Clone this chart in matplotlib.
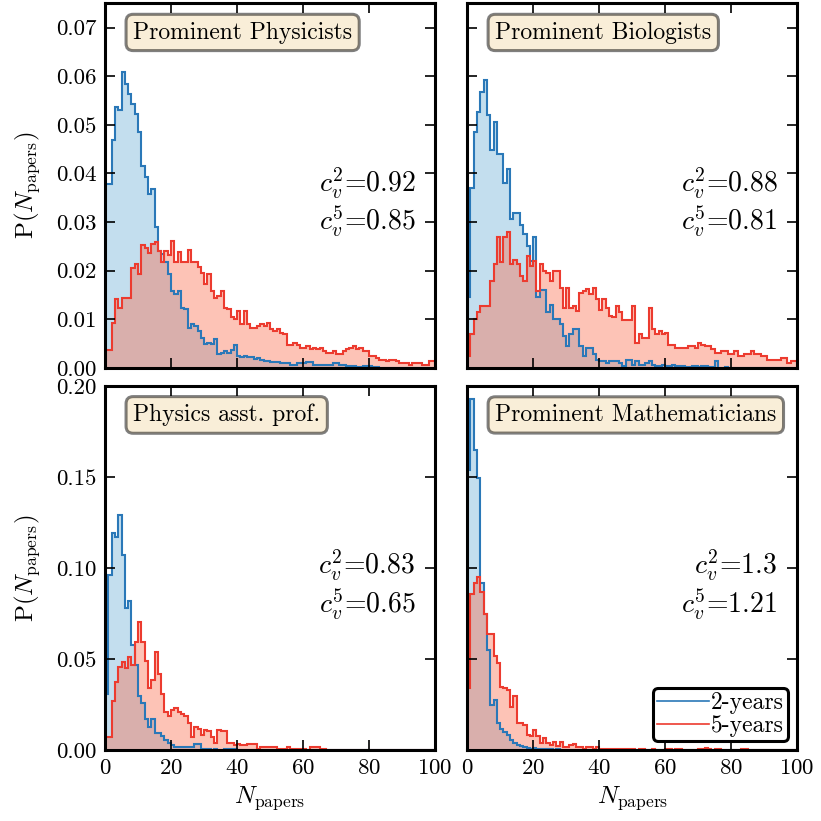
import numpy as np
import matplotlib
matplotlib.use("Agg")
import matplotlib.pyplot as plt
from matplotlib.ticker import FormatStrFormatter

plt.rcParams['font.family'] = 'serif'
plt.rcParams['font.serif'] = ['cmr10']
plt.rcParams['mathtext.fontset'] = 'cm'
plt.rcParams['axes.formatter.use_mathtext'] = True

# histogram values, one bin per paper count 0..99
phys2 = [0.0378, 0.0378, 0.0468, 0.0536, 0.0530, 0.0609, 0.0584, 0.0564, 0.0543, 0.0523,
         0.0485, 0.0416, 0.0392, 0.0358, 0.0368, 0.0289, 0.0241, 0.0234, 0.0217, 0.0193,
         0.0159, 0.0152, 0.0159, 0.0124, 0.0121, 0.0083, 0.0090, 0.0087, 0.0076, 0.0062,
         0.0049, 0.0052, 0.0049, 0.0059, 0.0028, 0.0030, 0.0034, 0.0030, 0.0036, 0.0047,
         0.0025, 0.0023, 0.0024, 0.0023, 0.0022, 0.0019, 0.0020, 0.0016, 0.0014, 0.0014,
         0.0013, 0.0012, 0.0012, 0.0010, 0.0010, 0.0010, 0.0007, 0.0007, 0.0010, 0.0010,
         0.0010, 0.0012, 0.0012, 0.0007, 0.0007, 0.0005, 0.0006, 0.0005, 0.0005, 0.0010,
         0.0010, 0.0005, 0.0005, 0.0004, 0.0004, 0.0003, 0.0002, 0.0002, 0.0003, 0.0003,
         0.0003, 0.0002, 0.0001, 0, 0, 0, 0, 0, 0, 0,
         0, 0, 0, 0, 0, 0, 0, 0, 0, 0]
phys5 = [0.0036, 0.0036, 0.0093, 0.0141, 0.0124, 0.0144, 0.0144, 0.0144, 0.0205, 0.0214,
         0.0193, 0.0253, 0.0247, 0.0236, 0.0255, 0.0258, 0.0240, 0.0217, 0.0240, 0.0233,
         0.0262, 0.0217, 0.0238, 0.0217, 0.0217, 0.0243, 0.0217, 0.0217, 0.0207, 0.0196,
         0.0172, 0.0193, 0.0159, 0.0144, 0.0148, 0.0159, 0.0124, 0.0121, 0.0104, 0.0100,
         0.0117, 0.0090, 0.0117, 0.0090, 0.0083, 0.0083, 0.0086, 0.0090, 0.0086, 0.0093,
         0.0079, 0.0076, 0.0079, 0.0072, 0.0069, 0.0048, 0.0048, 0.0052, 0.0048, 0.0041,
         0.0041, 0.0045, 0.0038, 0.0041, 0.0038, 0.0041, 0.0034, 0.0031, 0.0031, 0.0034,
         0.0028, 0.0028, 0.0034, 0.0038, 0.0041, 0.0045, 0.0038, 0.0041, 0.0034, 0.0034,
         0.0024, 0.0024, 0.0021, 0.0017, 0.0017, 0.0014, 0.0017, 0.0017, 0.0014, 0.0010,
         0.0010, 0.0010, 0.0007, 0.0010, 0.0010, 0.0010, 0.0007, 0.0007, 0.0014, 0.0014]

bio2 = [0.0145, 0.0370, 0.0486, 0.0527, 0.0568, 0.0593, 0.0520, 0.0448, 0.0506, 0.0441,
        0.0441, 0.0380, 0.0410, 0.0307, 0.0318, 0.0318, 0.0293, 0.0276, 0.0251, 0.0220,
        0.0270, 0.0145, 0.0160, 0.0160, 0.0114, 0.0130, 0.0100, 0.0100, 0.0090, 0.0065,
        0.0045, 0.0069, 0.0079, 0.0079, 0.0045, 0.0024, 0.0040, 0.0040, 0.0028, 0.0017,
        0.0014, 0.0014, 0.0010, 0.0014, 0.0014, 0.0014, 0.0010, 0.0004, 0.0017, 0.0017,
        0.0007, 0.0014, 0.0007, 0.0007, 0.0010, 0.0014, 0.0007, 0.0004, 0.0004, 0.0007,
        0.0004, 0.0004, 0.0007, 0.0004, 0.0004, 0.0004, 0.0002, 0.0002, 0.0004, 0.0004,
        0.0002, 0.0004, 0.0004, 0.0002, 0.0002, 0.0014, 0, 0, 0.0002, 0,
        0, 0, 0, 0, 0, 0, 0, 0, 0, 0,
        0, 0, 0, 0, 0, 0, 0, 0, 0, 0]
bio5 = [0.0024, 0.0069, 0.0100, 0.0114, 0.0127, 0.0127, 0.0127, 0.0179, 0.0214, 0.0269,
        0.0217, 0.0269, 0.0279, 0.0214, 0.0221, 0.0214, 0.0190, 0.0179, 0.0230, 0.0210,
        0.0220, 0.0158, 0.0214, 0.0200, 0.0195, 0.0179, 0.0200, 0.0200, 0.0165, 0.0124,
        0.0165, 0.0124, 0.0128, 0.0117, 0.0155, 0.0158, 0.0162, 0.0152, 0.0165, 0.0141,
        0.0120, 0.0141, 0.0124, 0.0107, 0.0104, 0.0127, 0.0114, 0.0098, 0.0098, 0.0098,
        0.0127, 0.0052, 0.0069, 0.0062, 0.0062, 0.0124, 0.0079, 0.0069, 0.0076, 0.0069,
        0.0072, 0.0048, 0.0048, 0.0041, 0.0041, 0.0041, 0.0041, 0.0045, 0.0045, 0.0041,
        0.0052, 0.0048, 0.0045, 0.0045, 0.0038, 0.0031, 0.0031, 0.0034, 0.0034, 0.0028,
        0.0028, 0.0034, 0.0024, 0.0024, 0.0028, 0.0028, 0.0034, 0.0028, 0.0028, 0.0024,
        0.0024, 0.0017, 0.0017, 0.0017, 0.0017, 0.0021, 0.0021, 0.0010, 0.0014, 0.0014]

asst2 = [0.031, 0.096, 0.119, 0.117, 0.129, 0.107, 0.078, 0.082, 0.058, 0.047,
         0.030, 0.026, 0.017, 0.013, 0.017, 0.0097, 0.0097, 0.008, 0.0057, 0.0043,
         0.003, 0.002, 0.0017, 0.0017, 0.0017, 0.0017, 0.0017, 0.0035, 0.0035, 0.0005,
         0.0005, 0.0005, 0, 0.0005, 0, 0, 0.001, 0.001, 0.001, 0.0005] + [0] * 60
asst5 = [0.0075, 0.0075, 0.027, 0.0376, 0.046, 0.0485, 0.045, 0.0515, 0.0467, 0.0594,
         0.0703, 0.0594, 0.049, 0.034, 0.0385, 0.054, 0.042, 0.031, 0.021, 0.019,
         0.022, 0.0235, 0.021, 0.020, 0.019, 0.015, 0.0075, 0.0126, 0.0115, 0.0085,
         0.011, 0.0105, 0.0075, 0.004, 0.011, 0.0105, 0.0105, 0.004, 0.004, 0.003,
         0.0035, 0.003, 0.003, 0.0035, 0.0035, 0.0035, 0.001, 0.002, 0.002, 0.002,
         0.002, 0.002, 0.001, 0.001, 0.001, 0.002, 0.0005, 0.0005, 0.0005, 0.0005,
         0.001, 0, 0.002, 0.002, 0.002, 0.001, 0.0005, 0, 0, 0] + [0] * 30

math2 = [0.154, 0.193, 0.165, 0.1495, 0.092, 0.075, 0.055, 0.025, 0.0275, 0.015,
         0.012, 0.010, 0.0084, 0.0056, 0.0042, 0.003, 0.0026, 0.002, 0.0015, 0.001,
         0.0015, 0.001, 0.0005, 0.0005, 0.0005, 0.0005, 0, 0.0005, 0, 0] + [0] * 70
math5 = [0.034, 0.086, 0.092, 0.095, 0.087, 0.075, 0.064, 0.064, 0.052, 0.048,
         0.035, 0.034, 0.033, 0.024, 0.030, 0.015, 0.015, 0.014, 0.0085, 0.008,
         0.011, 0.008, 0.004, 0.007, 0.004, 0.003, 0.0045, 0.0025, 0.0045, 0.002,
         0.002, 0.003, 0.0035, 0.002, 0.002, 0.001, 0.002, 0.002, 0.001, 0.002,
         0.001, 0.0005, 0.001, 0.0005, 0.0005, 0.001, 0.0005, 0.001, 0.0005, 0.0005,
         0.0005, 0, 0.0005, 0.001, 0, 0, 0.0005, 0, 0, 0,
         0.001, 0.001, 0, 0.001, 0.001, 0, 0, 0, 0, 0,
         0.001, 0.001, 0.0015, 0.001, 0, 0.001, 0.001, 0, 0, 0,
         0, 0, 0, 0.001, 0.001, 0, 0, 0, 0, 0,
         0, 0, 0, 0, 0, 0, 0, 0, 0, 0]

titles = ["Prominent Physicists", "Prominent Biologists",
          "Physics asst. prof.", "Prominent Mathematicians"]
cv2 = ["0.92", "0.88", "0.83", "1.3"]
cv5 = ["0.85", "0.81", "0.65", "1.21"]
series2 = [phys2, bio2, asst2, math2]
series5 = [phys5, bio5, asst5, math5]

edges = np.arange(0, 101)
blue, red = '#2a78b8', '#ec3b2f'

fig, axes = plt.subplots(2, 2, figsize=(8.21, 8.21), dpi=100)
fig.subplots_adjust(left=0.128, right=0.971, top=0.996, bottom=0.086,
                    wspace=0.097, hspace=0.049)

for i, ax in enumerate(axes.flat):
    v2 = np.array(series2[i])
    v5 = np.array(series5[i])
    ax.stairs(v2, edges, fill=True, color='#6baed6', alpha=0.4, lw=0)
    ax.stairs(v5, edges, fill=True, color='#fb6a4a', alpha=0.4, lw=0)
    ax.stairs(v2, edges, color=blue, lw=1.5, label='2-years')
    ax.stairs(v5, edges, color=red, lw=1.5, label='5-years')

    ax.set_xlim(0, 100)
    ax.set_xticks([0, 20, 40, 60, 80, 100])
    if i < 2:
        ax.set_ylim(0, 0.075)
        ax.set_yticks(np.arange(0, 0.071, 0.01))
        ax.tick_params(labelbottom=False)
    else:
        ax.set_ylim(0, 0.2)
        ax.set_yticks(np.arange(0, 0.201, 0.05))
        ax.set_xlabel(r'$N_{\rm papers}$', fontsize=18, labelpad=4)
    ax.yaxis.set_major_formatter(FormatStrFormatter('%.2f'))
    if i % 2 == 0:
        ax.set_ylabel(r'P$(N_{\rm papers})$', fontsize=18, labelpad=10)
    else:
        ax.tick_params(labelleft=False)

    ax.tick_params(direction='in', top=True, right=True, length=7, width=1.2,
                   labelsize=16.5, pad=6)
    for sp in ax.spines.values():
        sp.set_linewidth(2.2)

    ax.text(0.085, 0.92, titles[i], transform=ax.transAxes, fontsize=17,
            ha='left', va='center',
            bbox=dict(boxstyle='round,pad=0.3', facecolor='wheat', alpha=0.5,
                      edgecolor='black', lw=2.2))
    ax.text(0.94, 0.455, r'$c_v^2$=' + cv2[i] + '\n' + r'$c_v^5$=' + cv5[i],
            transform=ax.transAxes, fontsize=20, ha='right', va='center',
            linespacing=1.1)

leg = axes[1, 1].legend(loc='lower right', fontsize=17, handlelength=2.2,
                        handletextpad=0.1, borderpad=0.15, labelspacing=0.05,
                        borderaxespad=0.4, framealpha=1, fancybox=True)
leg.get_frame().set_edgecolor('black')
leg.get_frame().set_linewidth(2.2)
for h in leg.get_lines():
    h.set_linewidth(1.2)

fig.savefig('out.png', dpi=100)
